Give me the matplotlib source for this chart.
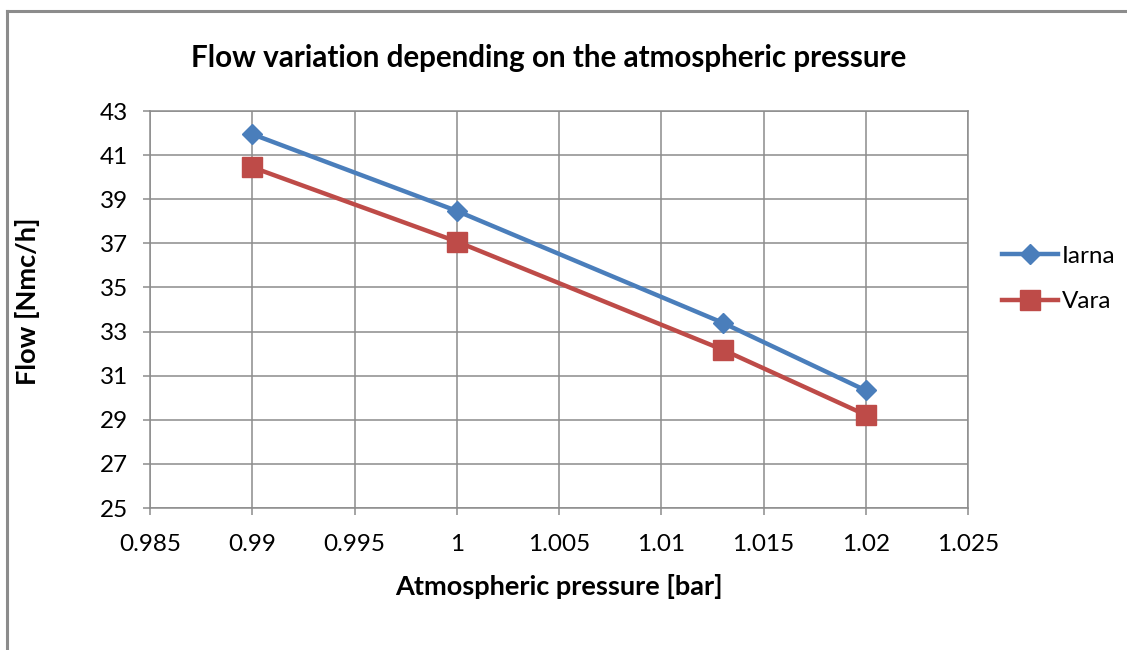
import matplotlib
matplotlib.use('Agg')
import matplotlib.pyplot as plt
from matplotlib.lines import Line2D

# data
pressure = [0.99, 1.0, 1.013, 1.02]
iarna = [41.95, 38.47, 33.40, 30.33]
vara = [40.45, 37.08, 32.18, 29.22]

x_ticks = [0.985, 0.99, 0.995, 1.0, 1.005, 1.01, 1.015, 1.02, 1.025]
x_tick_labels = ["0.985", "0.99", "0.995", "1", "1.005", "1.01", "1.015", "1.02", "1.025"]
y_ticks = [25, 27, 29, 31, 33, 35, 37, 39, 41, 43]

plt.rcParams['font.family'] = ['Lato', 'DejaVu Sans']

fig = plt.figure(figsize=(11.27, 6.5), dpi=100)
ax = fig.add_axes([150 / 1127, 1 - 508 / 650, (968 - 150) / 1127, (508 - 111) / 650])

blue = "#4A7EBB"
red = "#BE4B48"

ax.plot(pressure, iarna, color=blue, lw=3.2, marker="D", markersize=10,
        markerfacecolor=blue, markeredgecolor=blue, label="Iarna", zorder=3)
ax.plot(pressure, vara, color=red, lw=3.2, marker="s", markersize=14.5,
        markerfacecolor=red, markeredgecolor=red, label="Vara", zorder=3)

ax.set_xlim(0.985, 1.025)
ax.set_ylim(25, 43)
ax.set_xticks(x_ticks)
ax.set_xticklabels(x_tick_labels)
ax.set_yticks(y_ticks)
ax.grid(True, color="#8c8c8c", lw=1.1)
ax.set_axisbelow(True)
for s in ax.spines.values():
    s.set_color("#8c8c8c")
    s.set_linewidth(1.1)
ax.tick_params(axis="both", labelsize=17.5, color="#8c8c8c", length=5, width=1.1)
ax.tick_params(axis="x", pad=14)
ax.tick_params(axis="y", pad=11)

fig.text(549 / 1127, 1 - 58 / 650, "Flow variation depending on the atmospheric pressure",
         fontsize=21.3, fontweight="bold", ha="center", va="center")
ax.set_xlabel("Atmospheric pressure [bar]", fontsize=19.5, fontweight="bold")
ax.set_ylabel("Flow [Nmc/h]", fontsize=19.5, fontweight="bold")
ax.xaxis.set_label_coords(0.5, -0.165)
ax.yaxis.set_label_coords(-0.134, 0.52)

ax.legend(loc="center left", bbox_to_anchor=(1.015, 0.577), frameon=False,
          fontsize=17.5, handlelength=2.3, labelspacing=1.0, handletextpad=0.15)

# outer chart frame (top and left edges visible in the reference)
fig.add_artist(Line2D([7 / 1127, 7 / 1127], [0, 1 - 11 / 650], color="#8c8c8c", lw=2.2))
fig.add_artist(Line2D([7 / 1127, 1], [1 - 11 / 650, 1 - 11 / 650], color="#8c8c8c", lw=2.2))

fig.savefig("out.png", dpi=100)
